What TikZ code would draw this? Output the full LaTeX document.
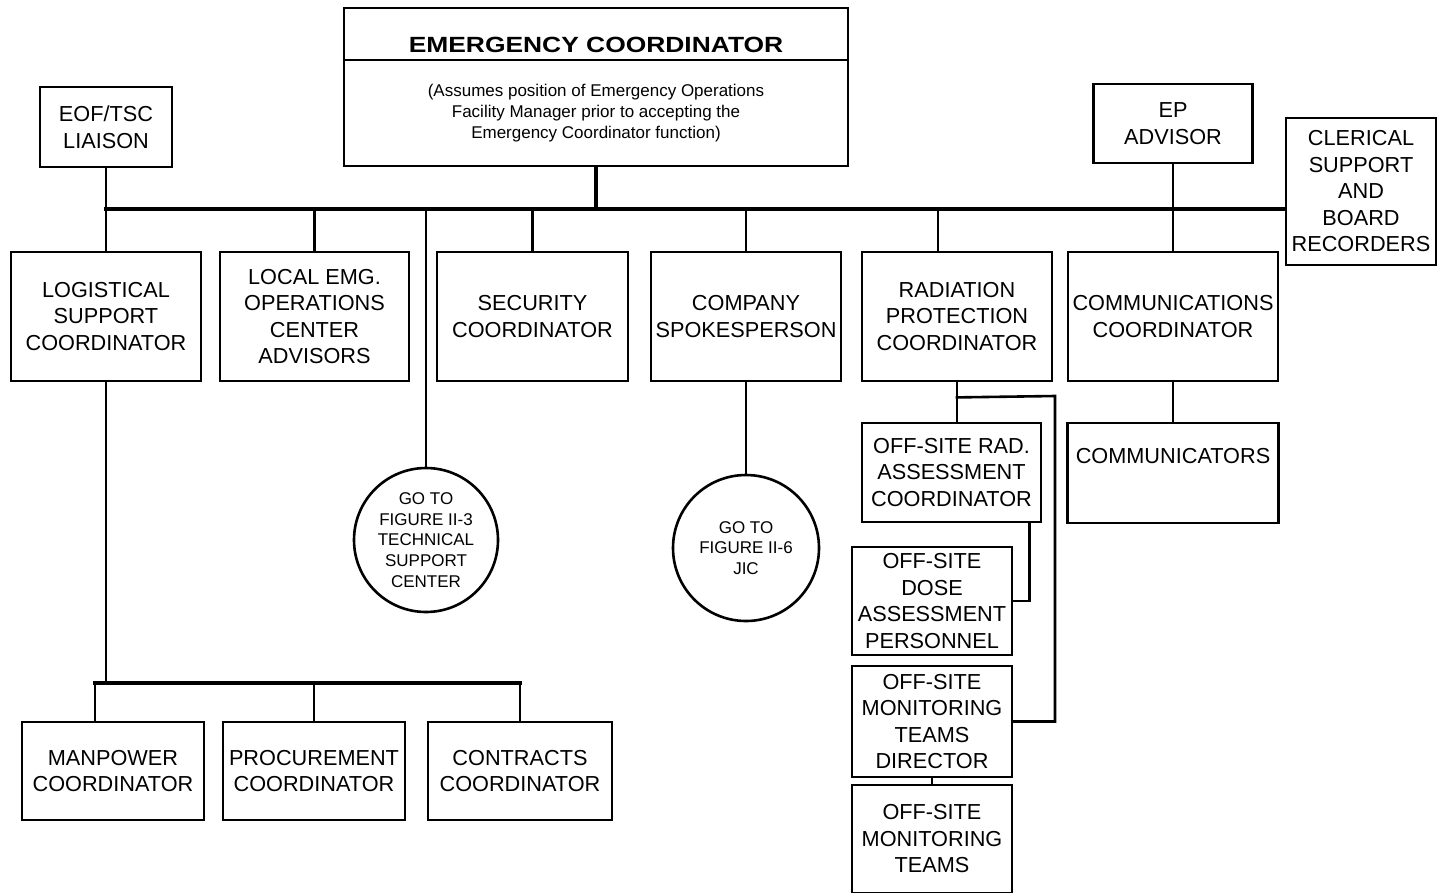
\documentclass[tikz,border=0pt]{standalone}
\usepackage{fontspec}
\setmainfont{Liberation Sans}
\begin{document}
\begin{tikzpicture}[x=1pt,y=-1pt,
  box/.style={draw, line width=2.8pt, inner sep=0pt, align=center, font=\fontsize{21.7}{26.5}\selectfont},
  circ/.style={draw, circle, line width=2.6pt, inner sep=0pt, align=center, font=\fontsize{17}{20.7}\selectfont},
  con/.style={line width=2.6pt, line cap=rect},
  bus/.style={line width=3.2pt, line cap=rect}]
\useasboundingbox (0,0) rectangle (1437,892);
\clip (0,0) rectangle (1437,892);
% top
\node[box, minimum width=504pt, minimum height=158pt] (ec) at (596,87) {};
\draw[con, line cap=butt] (ec.west |- 0,60) -- (ec.east |- 0,60);
\node[font=\fontsize{22}{26}\selectfont\bfseries, inner sep=0pt] (ectitle) at (596,45) {\scalebox{1.2}[1]{EMERGENCY COORDINATOR}};
\node[font=\fontsize{17}{20.7}\selectfont, align=center, inner sep=0pt] (ecnote) at (596,113) {(Assumes position of Emergency Operations\\Facility Manager prior to accepting the\\Emergency Coordinator function)};
\node[box, minimum width=132pt, minimum height=80pt] (eof) at (106,127) {EOF/TSC\\LIAISON};
\node[box, minimum width=159pt, minimum height=79pt] (ep) at (1173,123.5) {EP\\ADVISOR};
\node[box, minimum width=150pt, minimum height=147pt] (clerical) at (1361,191.5) {CLERICAL\\SUPPORT\\AND\\BOARD\\RECORDERS};
% second row
\node[box, minimum width=190pt, minimum height=129pt] (logistical) at (106,316.5) {LOGISTICAL\\SUPPORT\\COORDINATOR};
\node[box, minimum width=189pt, minimum height=129pt] (local) at (314.5,316.5) {LOCAL EMG.\\OPERATIONS\\CENTER\\ADVISORS};
\node[box, minimum width=191pt, minimum height=129pt] (security) at (532.5,316.5) {SECURITY\\COORDINATOR};
\node[box, minimum width=190pt, minimum height=129pt] (company) at (746,316.5) {COMPANY\\SPOKESPERSON};
\node[box, minimum width=190pt, minimum height=129pt] (rad) at (957,316.5) {RADIATION\\PROTECTION\\COORDINATOR};
\node[box, minimum width=210pt, minimum height=129pt] (comm) at (1173,316.5) {COMMUNICATIONS\\COORDINATOR};
% lower right
\node[box, minimum width=211pt, minimum height=100pt] (communicators) at (1173,473) {COMMUNICATORS\\\strut};
\node[box, minimum width=179pt, minimum height=99pt] (offrad) at (951.5,472.5) {OFF-SITE RAD.\\ASSESSMENT\\COORDINATOR};
\node[box, minimum width=160pt, minimum height=108pt] (dose) at (932,601) {OFF-SITE\\DOSE\\ASSESSMENT\\PERSONNEL};
\node[box, minimum width=160pt, minimum height=111pt] (director) at (932,721.5) {OFF-SITE\\MONITORING\\TEAMS\\DIRECTOR};
\node[box, minimum width=160pt, minimum height=108pt] (teams) at (932,839) {OFF-SITE\\MONITORING\\TEAMS};
% circles
\node[circ, minimum size=144pt] (tsc) at (426,540) {GO TO\\FIGURE II-3\\TECHNICAL\\SUPPORT\\CENTER};
\node[circ, minimum size=146pt] (jic) at (746,548) {GO TO\\FIGURE II-6\\JIC};
% bottom row
\node[box, minimum width=182pt, minimum height=98pt] (manpower) at (113,771) {MANPOWER\\COORDINATOR};
\node[box, minimum width=182pt, minimum height=98pt] (procurement) at (314,771) {PROCUREMENT\\COORDINATOR};
\node[box, minimum width=184pt, minimum height=98pt] (contracts) at (520,771) {CONTRACTS\\COORDINATOR};
% connectors
\coordinate (busL) at (106,209);
\draw[line width=3.4pt] (ec.south) -- (ec.south |- busL);
\draw[bus] (busL) -- (clerical.west |- busL);
\draw[con] (eof.south) -- (logistical.north);
\draw[con] (local.north) -- (local.north |- busL);
\draw[con] (tsc.north) -- (tsc.north |- busL);
\draw[con] (security.north) -- (security.north |- busL);
\draw[con] (company.north) -- (company.north |- busL);
\draw[con] ([xshift=-19pt]rad.north) -- ([xshift=-19pt]rad.north |- busL);
\draw[con] (ep.south) -- (comm.north);
\draw[con] (company.south) -- (jic.north);
\draw[con] (comm.south) -- (communicators.north);
\draw[con] (rad.south) -- (rad.south |- offrad.north);
\path (rad.south) ++(0,15) coordinate (radbr);
\coordinate (outer) at (1055,396);
\draw[con] (radbr) -- (outer) |- (director.east);
\draw[con] ([xshift=-13pt]offrad.south east) |- (dose.east);
\draw[con] (director.south) -- (teams.north);
\coordinate (busB) at (106,683);
\coordinate (busBL) at ([xshift=-18pt]manpower.north |- busB);
\draw[con] (logistical.south) -- (busB);
\draw[bus] (busBL) -- (contracts.north |- busB);
\draw[con] (busBL) -- ([xshift=-18pt]manpower.north);
\draw[con] (contracts.north |- busB) -- (contracts.north);
\draw[con] (procurement.north) -- (procurement.north |- busB);
\end{tikzpicture}
\end{document}
